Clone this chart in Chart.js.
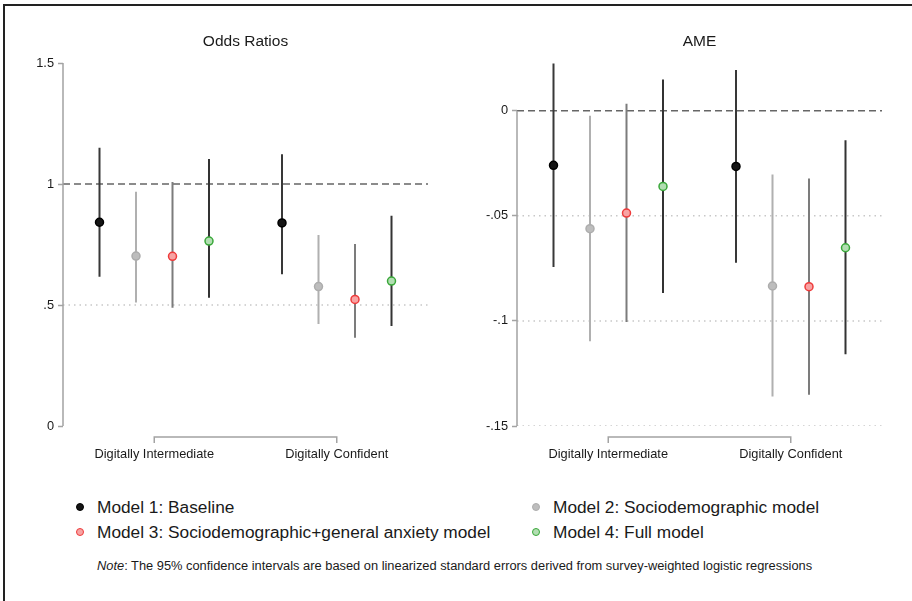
<!DOCTYPE html>
<html>
<head>
<meta charset="utf-8">
<title>Odds Ratios and AME</title>
<script src="https://cdn.jsdelivr.net/npm/chart.js@4.4.1/dist/chart.umd.min.js"></script>
<style>
html,body{margin:0;padding:0;background:#fff;}
body{width:912px;height:601px;position:relative;overflow:hidden;font-family:"Liberation Sans",Arial,sans-serif;color:#1a1a1a;}
.frame{position:absolute;left:3px;top:4px;right:-5px;bottom:-5px;border-top:2px solid #222;border-left:2px solid #222;}
.panel{position:absolute;top:0;}
#chartOR{left:0}
#chartAME{left:456px}
.leg{position:absolute;font-size:17.3px;line-height:20px;white-space:nowrap;}
.leg i{position:absolute;left:-21px;top:6px;width:6px;height:6px;border-radius:50%;border:1.5px solid;}
.note{position:absolute;left:97px;top:559px;font-size:12.85px;line-height:14px;white-space:nowrap;}
</style>
</head>
<body>
<div class="frame"></div>
<canvas id="chartOR" class="panel" width="456" height="480"></canvas>
<canvas id="chartAME" class="panel" width="456" height="480"></canvas>
<div id="legend"></div>
<div class="note"><i>Note</i>: The 95% confidence intervals are based on linearized standard errors derived from survey-weighted logistic regressions</div>

<script>
// categories and models
const categories = ['Digitally Intermediate', 'Digitally Confident'];
const models = ['Model 1: Baseline', 'Model 2: Sociodemographic model',
  'Model 3: Sociodemographic+general anxiety model', 'Model 4: Full model'];

// odds ratios, one row per model: [Intermediate, Confident]
const orEst = [[0.842, 0.839], [0.702, 0.576], [0.701, 0.523], [0.764, 0.599]];
const orLo  = [[0.617, 0.627], [0.510, 0.421], [0.489, 0.365], [0.530, 0.413]];
const orHi  = [[1.150, 1.123], [0.968, 0.789], [1.008, 0.752], [1.103, 0.869]];

// average marginal effects
const ameEst = [[-0.0260, -0.0265], [-0.0561, -0.0834], [-0.0487, -0.0837], [-0.0360, -0.0652]];
const ameLo  = [[-0.0744, -0.0723], [-0.1097, -0.1360], [-0.1005, -0.1351], [-0.0867, -0.1159]];
const ameHi  = [[0.0225, 0.0194], [-0.0024, -0.0303], [0.0033, -0.0323], [0.0149, -0.0141]];

// tick labels
const orTicks = [0, 0.5, 1, 1.5];
const ameTicks = [-0.15, -0.1, -0.05, 0];
const orDashed = [1], orDotted = [0.5];
const ameDashed = [0], ameDotted = [-0.05, -0.1, -0.15];

// styles
const lineCol  = ['#383838', '#b0b0b0', '#7c7c7c', '#333333'];
const dotFill  = ['#151515', '#bdbdbd', '#f7a3a3', '#b2deb2'];
const dotEdge  = ['#000000', '#adadad', '#ee3b3b', '#3aa83a'];

// legend (html)
const legPos = [[97, 497], [553, 497], [97, 522], [553, 522]];
const legEl = document.getElementById('legend');
models.forEach((m, i) => {
  const d = document.createElement('div');
  d.className = 'leg';
  d.style.left = legPos[i][0] + 'px';
  d.style.top = legPos[i][1] + 'px';
  d.innerHTML = '<i style="background:' + dotFill[i] + ';border-color:' + dotEdge[i] + '"></i>' + m;
  legEl.appendChild(d);
});

const xPos = (g, m) => g * 5 + m;   // slot on the x scale
const fmt = v => String(+v.toFixed(3)).replace(/^(-?)0\./, '$1.');

// stata-like decorations: title, y axis line, category bracket
const stataDeco = {
  id: 'stataDeco',
  afterDraw(chart, args, o) {
    const c = chart.ctx, a = chart.chartArea, xs = chart.scales.x, ys = chart.scales.y;
    c.save();
    c.fillStyle = '#1a1a1a';
    c.font = '15.5px "Liberation Sans", Arial, sans-serif';
    c.textAlign = 'center';
    c.textBaseline = 'middle';
    c.fillText(o.title, (a.left + a.right) / 2, 42);
    c.strokeStyle = '#a3a3a3';
    c.lineWidth = 1.5;
    c.beginPath();
    c.moveTo(a.left, ys.getPixelForValue(o.yTicks[0]));
    c.lineTo(a.left, ys.getPixelForValue(o.yTicks[o.yTicks.length - 1]));
    const x1 = xs.getPixelForValue(1.5), x2 = xs.getPixelForValue(6.5), yb = a.bottom + 11;
    c.moveTo(x1, yb + 6); c.lineTo(x1, yb); c.lineTo(x2, yb); c.lineTo(x2, yb + 6);
    c.stroke();
    c.restore();
  }
};

function buildDatasets(est, lo, hi, dashed, dotted) {
  const sets = [];
  dashed.forEach(v => sets.push({
    data: [{x: -1, y: v}, {x: 9, y: v}], showLine: true, pointRadius: 0,
    borderColor: '#666666', borderWidth: 1.5, borderDash: [7, 4], order: 3
  }));
  dotted.forEach(v => sets.push({
    data: [{x: -1, y: v}, {x: 9, y: v}], showLine: true, pointRadius: 0,
    borderColor: '#c8c8c8', borderWidth: 1.5, borderDash: [1.5, 4], order: 3
  }));
  models.forEach((m, i) => {
    const seg = [];
    categories.forEach((c, g) => {
      seg.push({x: xPos(g, i), y: lo[i][g]}, {x: xPos(g, i), y: hi[i][g]}, {x: xPos(g, i), y: null});
    });
    sets.push({data: seg, showLine: true, spanGaps: false, pointRadius: 0,
      borderColor: lineCol[i], borderWidth: 2, order: 2});
  });
  models.forEach((m, i) => {
    sets.push({label: m, data: categories.map((c, g) => ({x: xPos(g, i), y: est[i][g]})),
      showLine: false, pointRadius: 4, pointBorderWidth: 1.5,
      pointBackgroundColor: dotFill[i], pointBorderColor: dotEdge[i], order: 1});
  });
  return sets;
}

function makeChart(id, title, est, lo, hi, yTicks, yMin, yMax, dashed, dotted, pad) {
  return new Chart(document.getElementById(id), {
    type: 'scatter',
    data: {datasets: buildDatasets(est, lo, hi, dashed, dotted)},
    options: {
      responsive: false, animation: false, devicePixelRatio: 1, events: [],
      layout: {padding: pad},
      plugins: {legend: {display: false}, tooltip: {enabled: false},
        stataDeco: {title: title, yTicks: yTicks}},
      scales: {
        x: {
          type: 'linear', min: -1, max: 9,
          afterBuildTicks: s => { s.ticks = [{value: 1.5}, {value: 6.5}]; },
          afterFit: s => { s.height = 40; },
          grid: {display: false, drawTicks: false}, border: {display: false},
          ticks: {callback: (v, i) => categories[i], padding: 21, maxRotation: 0, autoSkip: false,
            color: '#1a1a1a', font: {family: '"Liberation Sans", Arial, sans-serif', size: 12.8}}
        },
        y: {
          min: yMin, max: yMax,
          afterBuildTicks: s => { s.ticks = yTicks.map(v => ({value: v})); },
          afterFit: s => { s.width = 40; },
          grid: {drawOnChartArea: false, drawTicks: true, tickLength: 5, tickColor: '#a3a3a3', tickWidth: 1.5},
          border: {display: false},
          ticks: {callback: v => fmt(v), padding: 4, color: '#1a1a1a',
            font: {family: '"Liberation Sans", Arial, sans-serif', size: 12.8}}
        }
      }
    },
    plugins: [stataDeco]
  });
}

makeChart('chartOR', 'Odds Ratios', orEst, orLo, orHi, orTicks, 0, 1.5, orDashed, orDotted,
  {left: 23, top: 63, right: 28, bottom: 14});
makeChart('chartAME', 'AME', ameEst, ameLo, ameHi, ameTicks, -0.15, 0.0227, ameDashed, ameDotted,
  {left: 21, top: 63, right: 30, bottom: 14});
</script>
</body>
</html>
